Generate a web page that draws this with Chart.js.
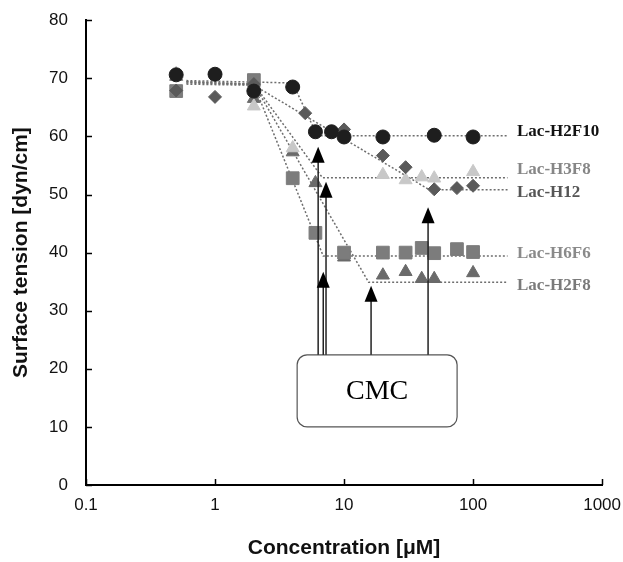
<!DOCTYPE html>
<html>
<head>
<meta charset="utf-8">
<script src="https://cdn.jsdelivr.net/npm/chart.js@4.4.1/dist/chart.umd.min.js"></script>
<style>
    html, body { margin: 0; padding: 0; background: #fff; }
    #wrap { width: 623px; height: 562px; }
</style>
</head>
<body>
<div id="wrap"><canvas id="tensionChart"></canvas></div>
<script>
// axis ticks
const xTicks = [0.1, 1, 10, 100, 1000];
const yTicks = [0, 10, 20, 30, 40, 50, 60, 70, 80];

// measured points (concentration in uM, surface tension in dyn/cm)
const concH2F10 = [0.5, 1, 2, 4, 6, 8, 10, 20, 50, 100];
const tensionH2F10 = [70.6, 70.7, 67.8, 68.5, 60.8, 60.8, 59.9, 59.9, 60.2, 59.9];

const concH3F8 = [0.5, 2, 4, 20, 30, 40, 50, 100];
const tensionH3F8 = [70.8, 65.2, 58.0, 53.4, 52.5, 53.0, 52.8, 53.9];

const concH12 = [0.5, 1, 2, 5, 10, 20, 30, 50, 75, 100];
const tensionH12 = [67.9, 66.8, 69.0, 64.0, 61.2, 56.7, 54.7, 50.9, 51.1, 51.5];

const concH6F6 = [0.5, 2, 4, 6, 10, 20, 30, 40, 50, 75, 100];
const tensionH6F6 = [67.8, 69.7, 52.8, 43.4, 40.0, 40.0, 40.0, 40.8, 39.9, 40.6, 40.1];

const concH2F8 = [0.5, 2, 4, 6, 10, 20, 30, 40, 50, 100];
const tensionH2F8 = [70.3, 66.5, 57.3, 52.0, 39.2, 36.1, 36.7, 35.5, 35.5, 36.5];

// dotted fit lines (break points)
const fitConcH2F10 = [0.6, 4, 6.2, 185];
const fitTensionH2F10 = [69.6, 69.2, 60.1, 60.1];
const fitConcH3F8 = [0.6, 2, 6.8, 185];
const fitTensionH3F8 = [69.4, 69.0, 52.9, 52.9];
const fitConcH12 = [0.6, 2, 46, 185];
const fitTensionH12 = [69.0, 68.8, 50.8, 50.8];
const fitConcH6F6 = [0.6, 2, 6.9, 185];
const fitTensionH6F6 = [69.2, 68.9, 39.4, 39.4];
const fitConcH2F8 = [0.6, 2, 15.5, 185];
const fitTensionH2F8 = [69.4, 69.0, 34.9, 34.9];

// series labels at right
const seriesNames = ['Lac-H2F10', 'Lac-H3F8', 'Lac-H12', 'Lac-H6F6', 'Lac-H2F8'];
const seriesColors = ['#1e1e1e', '#c8c8c8', '#5a5a5a', '#7c7c7c', '#6a6a6a'];
const labelColors = ['#111111', '#868686', '#555555', '#8a8a8a', '#7a7a7a'];
const labelConc = 219;
const labelTension = [60.9, 54.2, 50.3, 39.9, 34.4];

// CMC arrows and box
const cmcConc = [6.3, 7.25, 6.9, 16.2, 44.8];
const cmcTip = [58.2, 52.2, 36.7, 34.3, 47.8];
const boxConc = [4.33, 75.2];
const boxTension = [10.0, 22.4];

const toPoints = (xs, ys) => xs.map((x, i) => ({ x: x, y: ys[i] }));

function markerSet(name, xs, ys, color, style, radius, order) {
    return {
        label: name,
        data: toPoints(xs, ys),
        pointStyle: style,
        pointRadius: radius,
        backgroundColor: color,
        borderColor: color,
        borderWidth: 1,
        showLine: false,
        order: order
    };
}

function fitSet(xs, ys) {
    return {
        data: toPoints(xs, ys),
        showLine: true,
        pointRadius: 0,
        borderColor: '#6e6e6e',
        borderWidth: 1.5,
        borderDash: [2, 2],
        fill: false,
        order: 10
    };
}

const overlayPlugin = {
    id: 'overlay',
    afterDatasetsDraw(chart) {
        const ctx = chart.ctx;
        const x = chart.scales.x;
        const y = chart.scales.y;
        const area = chart.chartArea;

        // inner tick marks
        ctx.save();
        ctx.strokeStyle = '#000';
        ctx.lineWidth = 1.5;
        yTicks.forEach(v => {
            const py = Math.round(y.getPixelForValue(v)) + 0.5;
            ctx.beginPath();
            ctx.moveTo(area.left, py);
            ctx.lineTo(area.left + 6, py);
            ctx.stroke();
        });
        xTicks.forEach(v => {
            const px = Math.round(x.getPixelForValue(v)) + 0.5;
            ctx.beginPath();
            ctx.moveTo(px, area.bottom);
            ctx.lineTo(px, area.bottom - 6);
            ctx.stroke();
        });

        // series labels
        ctx.font = 'bold 17px "Liberation Serif", "Times New Roman", serif';
        ctx.textBaseline = 'middle';
        ctx.textAlign = 'left';
        seriesNames.forEach((name, i) => {
            ctx.fillStyle = labelColors[i];
            ctx.fillText(name, x.getPixelForValue(labelConc), y.getPixelForValue(labelTension[i]));
        });

        // CMC box
        const bx0 = x.getPixelForValue(boxConc[0]);
        const bx1 = x.getPixelForValue(boxConc[1]);
        const by0 = y.getPixelForValue(boxTension[1]);
        const by1 = y.getPixelForValue(boxTension[0]);
        ctx.strokeStyle = '#555';
        ctx.lineWidth = 1.2;
        ctx.beginPath();
        ctx.roundRect(bx0, by0, bx1 - bx0, by1 - by0, 10);
        ctx.stroke();
        ctx.fillStyle = '#000';
        ctx.font = '28px "Liberation Serif", "Times New Roman", serif';
        ctx.textAlign = 'center';
        ctx.fillText('CMC', (bx0 + bx1) / 2, (by0 + by1) / 2 + 1);

        // arrows
        cmcConc.forEach((c, i) => {
            const px = x.getPixelForValue(c);
            const tip = y.getPixelForValue(cmcTip[i]);
            ctx.strokeStyle = '#222';
            ctx.lineWidth = 1.5;
            ctx.beginPath();
            ctx.moveTo(px, by0);
            ctx.lineTo(px, tip + 10);
            ctx.stroke();
            ctx.fillStyle = '#000';
            ctx.beginPath();
            ctx.moveTo(px, tip);
            ctx.lineTo(px - 6.5, tip + 16);
            ctx.lineTo(px + 6.5, tip + 16);
            ctx.closePath();
            ctx.fill();
        });
        ctx.restore();
    }
};

const ctx = document.getElementById('tensionChart').getContext('2d');
new Chart(ctx, {
    type: 'scatter',
    data: {
        datasets: [
            markerSet('Lac-H2F10', concH2F10, tensionH2F10, seriesColors[0], 'circle', 7, 0),
            markerSet('Lac-H3F8', concH3F8, tensionH3F8, seriesColors[1], 'triangle', 7.5, 3),
            markerSet('Lac-H12', concH12, tensionH12, seriesColors[2], 'rectRot', 6.5, 1),
            markerSet('Lac-H6F6', concH6F6, tensionH6F6, seriesColors[3], 'rect', 9, 2),
            markerSet('Lac-H2F8', concH2F8, tensionH2F8, seriesColors[4], 'triangle', 7.5, 4),
            fitSet(fitConcH2F10, fitTensionH2F10),
            fitSet(fitConcH3F8, fitTensionH3F8),
            fitSet(fitConcH12, fitTensionH12),
            fitSet(fitConcH6F6, fitTensionH6F6),
            fitSet(fitConcH2F8, fitTensionH2F8)
        ]
    },
    options: {
        responsive: true,
        maintainAspectRatio: false,
        animation: false,
        events: [],
        layout: { padding: { top: 20, right: 20, left: 0, bottom: 0 } },
        plugins: {
            legend: { display: false },
            tooltip: { enabled: false }
        },
        scales: {
            x: {
                type: 'logarithmic',
                min: 0.1,
                max: 1000,
                afterBuildTicks: scale => { scale.ticks = xTicks.map(v => ({ value: v })); },
                afterFit: scale => { scale.height = 77; },
                grid: { display: false },
                border: { display: true, color: '#000', width: 2 },
                ticks: {
                    color: '#111',
                    padding: 2,
                    maxRotation: 0,
                    font: { family: '"Liberation Sans", Arial, sans-serif', size: 17 },
                    callback: v => String(v)
                },
                title: {
                    display: true,
                    text: 'Concentration [μM]',
                    color: '#111',
                    padding: { top: 0, bottom: 1 },
                    font: { family: '"Liberation Sans", Arial, sans-serif', size: 21, weight: 'bold' }
                }
            },
            y: {
                min: 0,
                max: 80,
                afterBuildTicks: scale => { scale.ticks = yTicks.map(v => ({ value: v })); },
                afterFit: scale => { scale.width = 86; },
                grid: { display: false },
                border: { display: true, color: '#000', width: 2 },
                ticks: {
                    color: '#111',
                    padding: 10,
                    font: { family: '"Liberation Sans", Arial, sans-serif', size: 17 }
                },
                title: {
                    display: true,
                    text: 'Surface tension [dyn/cm]',
                    color: '#111',
                    padding: { top: 9, bottom: 0 },
                    font: { family: '"Liberation Sans", Arial, sans-serif', size: 21, weight: 'bold' }
                }
            }
        }
    },
    plugins: [overlayPlugin]
});
</script>
</body>
</html>
